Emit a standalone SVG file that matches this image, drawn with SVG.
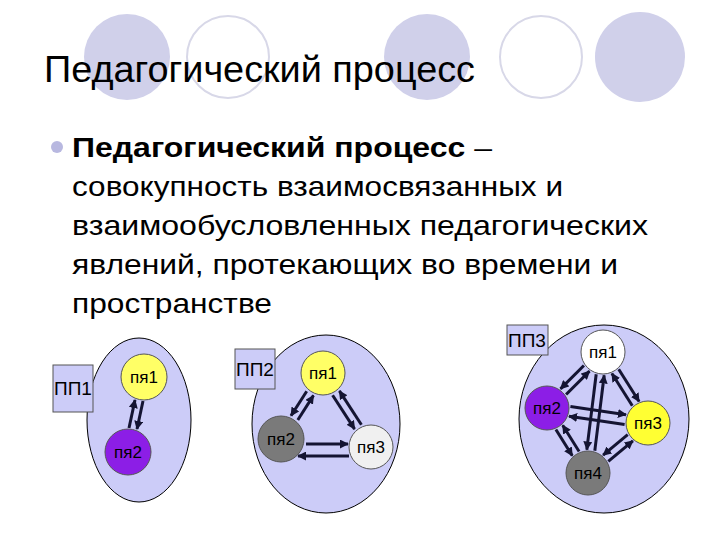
<svg xmlns="http://www.w3.org/2000/svg" width="720" height="540" viewBox="0 0 720 540">
<defs>
<style>
.bg{fill:#d0d0ea}
.bo{fill:#fff;stroke:#d8d8e8;stroke-width:2}
text{font-family:"Liberation Sans",Arial,sans-serif;fill:#000}
.t{font-size:28px}
.pp{fill:#ccccf8;stroke:#000;stroke-width:1}
.box{fill:#ccccf8;stroke:#555;stroke-width:1}
.n{stroke:#555;stroke-width:1}
.lb{font-size:17px;text-anchor:middle}
.bx{font-size:19px;text-anchor:middle}
#edges line{stroke:#141432;stroke-width:3;marker-end:url(#ah)}
</style>
<marker id="ah" viewBox="0 0 10 10" refX="9" refY="5" markerWidth="9" markerHeight="9" markerUnits="userSpaceOnUse" orient="auto"><path d="M0,0L10,5L0,10z" fill="#141432"/></marker>
</defs>
<rect width="720" height="540" fill="#fff"/>
<g id="decor">
<circle class="bg" cx="127" cy="57" r="43"/>
<circle class="bo" cx="228" cy="57" r="41"/>
<circle class="bg" cx="427" cy="57" r="43"/>
<circle class="bo" cx="541" cy="57" r="41"/>
<circle class="bg" cx="640" cy="57" r="45"/>
</g>
<text x="44" y="82" font-size="36" textLength="431" lengthAdjust="spacingAndGlyphs">Педагогический процесс</text>
<circle cx="57" cy="147" r="6" fill="#b8b8e0"/>
<text class="t" x="72" y="157" font-weight="bold" textLength="420" lengthAdjust="spacingAndGlyphs">Педагогический процесс <tspan font-weight="normal">–</tspan></text>
<text class="t" x="72" y="196" textLength="491" lengthAdjust="spacingAndGlyphs">совокупность взаимосвязанных и</text>
<text class="t" x="72" y="235" textLength="576" lengthAdjust="spacingAndGlyphs">взаимообусловленных педагогических</text>
<text class="t" x="72" y="274" textLength="546" lengthAdjust="spacingAndGlyphs">явлений, протекающих во времени и</text>
<text class="t" x="72" y="313" textLength="200" lengthAdjust="spacingAndGlyphs">пространстве</text>

<g id="pp1">
<ellipse class="pp" cx="139" cy="420" rx="52" ry="82"/>
<rect class="box" x="53" y="365" width="40" height="47"/>
<text class="bx" x="73" y="395">ПП1</text>
</g>
<g id="pp2">
<ellipse class="pp" cx="326" cy="424" rx="74" ry="89"/>
<rect class="box" x="235" y="349" width="40" height="40"/>
<text class="bx" x="255" y="376">ПП2</text>
</g>
<g id="pp3">
<ellipse class="pp" cx="604" cy="419" rx="85" ry="94"/>
<rect class="box" x="507" y="325" width="41" height="30"/>
<text class="bx" x="527" y="347">ПП3</text>
</g>

<g id="edges">
<line x1="143" y1="401" x2="137" y2="429"/>
<line x1="129" y1="428" x2="135" y2="400"/>
<line x1="306.7" y1="391.2" x2="291" y2="415.8"/>
<line x1="297.8" y1="420" x2="313.5" y2="395.4"/>
<line x1="332.6" y1="395.3" x2="354.6" y2="429.1"/>
<line x1="361.4" y1="424.7" x2="339.4" y2="390.9"/>
<line x1="306" y1="444" x2="348" y2="444"/>
<line x1="349" y1="456" x2="298" y2="456"/>
<line x1="583.9" y1="365.5" x2="560.5" y2="388.9"/>
<line x1="566.1" y1="394.5" x2="589.5" y2="371.1"/>
<line x1="618.7" y1="369.3" x2="639.1" y2="401.5"/>
<line x1="632.3" y1="405.7" x2="611.9" y2="373.5"/>
<line x1="596.2" y1="374.3" x2="586.8" y2="449.7"/>
<line x1="594.8" y1="450.7" x2="604.2" y2="375.3"/>
<line x1="570.4" y1="406.5" x2="626" y2="414.7"/>
<line x1="624.6" y1="424.5" x2="569" y2="416.3"/>
<line x1="555.9" y1="429.5" x2="572.3" y2="455.7"/>
<line x1="579.1" y1="451.5" x2="562.7" y2="425.3"/>
<line x1="627.7" y1="434.6" x2="603.1" y2="455.2"/>
<line x1="608.3" y1="461.4" x2="632.9" y2="440.8"/>
</g>

<g id="pp1-n1"><circle class="n" cx="144" cy="377" r="23" fill="#ffff66"/><text class="lb" x="144" y="383">пя1</text></g>
<g id="pp1-n2"><circle class="n" cx="128" cy="452" r="23" fill="#8c1ee6"/><text class="lb" x="128" y="458">пя2</text></g>
<g id="pp2-n1"><circle class="n" cx="323" cy="373" r="22" fill="#ffff66"/><text class="lb" x="323" y="379">пя1</text></g>
<g id="pp2-n2"><circle class="n" cx="281" cy="439" r="23" fill="#7a7a7a"/><text class="lb" x="281" y="445">пя2</text></g>
<g id="pp2-n3"><circle class="n" cx="371" cy="447" r="22" fill="#f0f0f0"/><text class="lb" x="371" y="453">пя3</text></g>
<g id="pp3-n1"><circle class="n" cx="603" cy="352" r="22" fill="#ffffff"/><text class="lb" x="603" y="358">пя1</text></g>
<g id="pp3-n2"><circle class="n" cx="547" cy="408" r="22" fill="#8c1ee6"/><text class="lb" x="547" y="414">пя2</text></g>
<g id="pp3-n3"><circle class="n" cx="648" cy="423" r="22" fill="#ffff33"/><text class="lb" x="648" y="429">пя3</text></g>
<g id="pp3-n4"><circle class="n" cx="588" cy="473" r="22" fill="#7a7a7a"/><text class="lb" x="588" y="479">пя4</text></g>
</svg>
